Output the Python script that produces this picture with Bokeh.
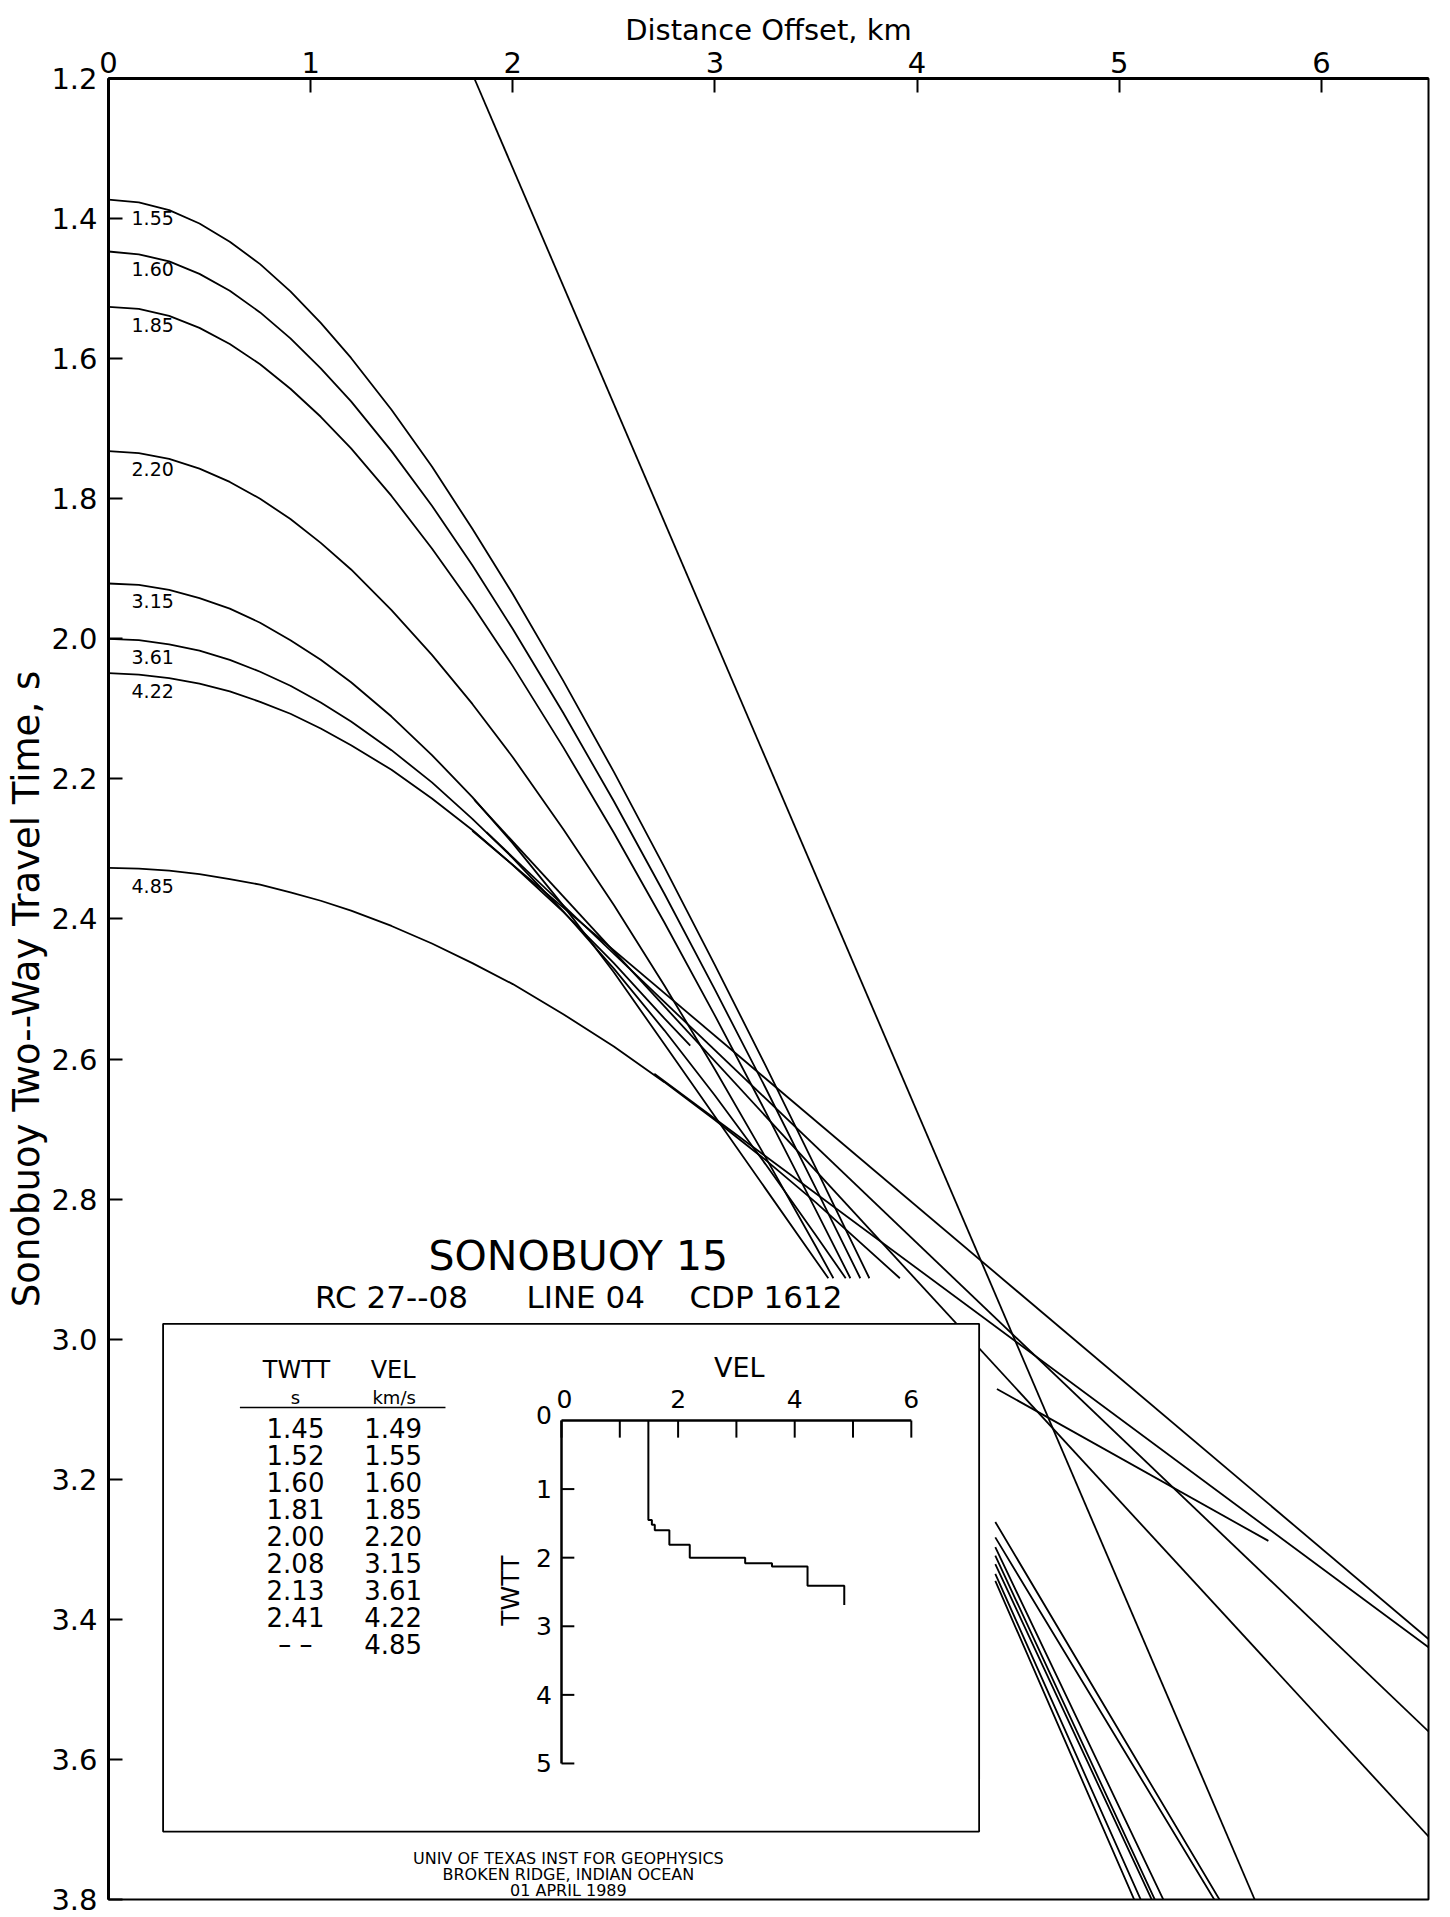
import math
from bokeh.plotting import figure
from bokeh.models import Range1d, FixedTicker, NumeralTickFormatter, Title
from bokeh.core.properties import value
from bokeh.embed import file_html
from bokeh.resources import INLINE

FONT = "DejaVu Sans"

# ---------------- data ----------------
offset_ticks = [0, 1, 2, 3, 4, 5, 6]
time_ticks = [1.2, 1.4, 1.6, 1.8, 2.0, 2.2, 2.4, 2.6, 2.8, 3.0, 3.2, 3.4, 3.6, 3.8]

curve_labels = ["1.55", "1.60", "1.85", "2.20", "3.15", "3.61", "4.22", "4.85"]

# sampled offsets (km) at which the curves were read
grid_x = [0, 0.15, 0.3, 0.45, 0.6, 0.75, 0.9, 1.05, 1.2, 1.4, 1.6, 1.8, 2.0, 2.25, 2.5, 2.75, 3.0, 3.25, 3.5]

# two-way times (s) at grid_x, plus the curve's end point
c155_t = [1.373, 1.377, 1.388, 1.407, 1.433, 1.465, 1.504, 1.549, 1.599, 1.673, 1.754, 1.843, 1.936, 2.060, 2.190, 2.326, 2.466, 2.609, 2.756]
c155_end = (3.764, 2.913)
c160_t = [1.447, 1.451, 1.461, 1.479, 1.503, 1.534, 1.571, 1.614, 1.661, 1.732, 1.810, 1.895, 1.986, 2.106, 2.232, 2.364, 2.501, 2.641, 2.785]
c160_end = (3.719, 2.913)
c185_t = [1.526, 1.529, 1.539, 1.556, 1.579, 1.608, 1.643, 1.683, 1.728, 1.796, 1.871, 1.952, 2.039, 2.155, 2.277, 2.405, 2.538, 2.675, 2.816]
c185_end = (3.670, 2.913)
c220_t = [1.732, 1.735, 1.743, 1.757, 1.776, 1.800, 1.829, 1.863, 1.901, 1.959, 2.023, 2.093, 2.169, 2.272, 2.380, 2.495, 2.615, 2.740, 2.868]
c220_end = (3.586, 2.913)
c315_t = [1.921, 1.923, 1.930, 1.942, 1.957, 1.977, 2.002, 2.030, 2.062, 2.111, 2.166, 2.226, 2.292, 2.381, 2.476, 2.579, 2.682, 2.785, 2.888]
c315_end = (3.561, 2.913)
c361_t = [2.000, 2.002, 2.008, 2.017, 2.030, 2.047, 2.067, 2.091, 2.118, 2.159, 2.205, 2.257, 2.313, 2.389, 2.471, 2.559, 2.652, 2.750, 2.852]
c361_end = (3.647, 2.913)
c422_t = [2.049, 2.051, 2.056, 2.064, 2.075, 2.090, 2.107, 2.128, 2.152, 2.187, 2.228, 2.273, 2.323, 2.390, 2.463, 2.542, 2.625, 2.712, 2.804]
c422_end = (2.878, 2.581)
c485_t = [2.327, 2.328, 2.331, 2.336, 2.343, 2.351, 2.362, 2.374, 2.388, 2.410, 2.435, 2.463, 2.493, 2.536, 2.582, 2.633, 2.687, 2.744, 2.805]
c485_end = (3.915, 2.913)

# far-offset branches (lower right, below the title block)
far_x = [[4.387, 5.087, 5.537], [4.387, 5.054, 5.512], [4.387, 4.890, 5.251],
         [4.387, 4.857, 5.208], [4.387, 4.840, 5.193], [4.387, 4.799, 5.137],
         [4.387, 4.774, 5.104]]
far_t = [[3.261, 3.6015, 3.82], [3.283, 3.6015, 3.82], [3.297, 3.6015, 3.82],
         [3.309, 3.6015, 3.82], [3.321, 3.6015, 3.82], [3.335, 3.6015, 3.82],
         [3.345, 3.6015, 3.82]]

# straight branches: start and end points
refr_x0 = [1.81, 1.87, 1.80, 2.70, 4.395]
refr_t0 = [2.230, 2.276, 2.274, 2.621, 3.071]
refr_x1 = [6.53, 6.53, 6.53, 6.53, 5.738]
refr_t1 = [3.71, 3.56, 3.428, 3.44, 3.288]

# direct water wave
direct_x = [1.81, 5.67]
direct_t = [1.20, 3.80]

# velocity model (inset table and step plot)
table_twtt = [1.45, 1.52, 1.60, 1.81, 2.00, 2.08, 2.13, 2.41]
table_vel = [1.49, 1.55, 1.60, 1.85, 2.20, 3.15, 3.61, 4.22, 4.85]
last_layer_base = 2.69
vel_ticks = [0, 1, 2, 3, 4, 5, 6]
vel_label_ticks = [0, 2, 4, 6]
twtt_ticks = [1, 2, 3, 4, 5]

# ---------------- figure ----------------
p = figure(width=1450, height=1917,
           x_range=Range1d(0, 6.53), y_range=Range1d(3.8, 1.2),
           x_axis_location="above",
           output_backend="svg", toolbar_location=None,
           min_border_left=108, min_border_right=22,
           min_border_top=78, min_border_bottom=18)
p.extra_x_ranges = {"vel": Range1d(-7.770, 14.871)}
p.extra_y_ranges = {"twtt": Range1d(6.983, -19.563)}

p.grid.visible = False
p.outline_line_color = "black"
p.outline_line_width = 2
p.background_fill_color = "white"
p.border_fill_color = "white"

xa = p.xaxis[0]
xa.ticker = FixedTicker(ticks=offset_ticks)
xa.axis_label = "Distance Offset, km"
ya = p.yaxis[0]
ya.ticker = FixedTicker(ticks=time_ticks)
ya.formatter = NumeralTickFormatter(format="0.0")
for ax in (xa, ya):
    ax.major_label_text_font = FONT
    ax.major_label_text_font_size = "29px"
    ax.major_label_text_color = "black"
    ax.axis_label_text_font = FONT
    ax.axis_label_text_font_size = "29px"
    ax.axis_label_text_font_style = "normal"
    ax.axis_label_text_color = "black"
    ax.axis_line_width = 3
    ax.axis_line_color = "black"
    ax.major_tick_in = 14
    ax.major_tick_out = 0
    ax.major_tick_line_width = 2
    ax.major_tick_line_color = "black"
    ax.minor_tick_in = 0
    ax.minor_tick_out = 0
xa.major_label_standoff = 6
xa.axis_label_standoff = 2
ya.major_label_standoff = 11

ytitle = Title(text="Sonobuoy Two--Way Travel Time, s", align="center", offset=67,
               text_font=FONT, text_font_size="37px", text_font_style="normal",
               text_color="black", standoff=2)
p.add_layout(ytitle, "left")

# travel-time curves
near_t = [c155_t, c160_t, c185_t, c220_t, c315_t, c361_t, c422_t, c485_t]
near_end = [c155_end, c160_end, c185_end, c220_end, c315_end, c361_end, c422_end, c485_end]
near_xs, near_ys = [], []
for ts, (xe, te) in zip(near_t, near_end):
    xs = [x for x in grid_x if x < xe] + [xe]
    near_xs.append(xs)
    near_ys.append(ts[:len(xs) - 1] + [te])
p.multi_line(xs=near_xs + far_x, ys=near_ys + far_t, line_color="black", line_width=1.8)
p.segment(x0=refr_x0, y0=refr_t0, x1=refr_x1, y1=refr_t1, line_color="black", line_width=1.8)
p.line(direct_x, direct_t, line_color="black", line_width=1.8)

p.text(x=[grid_x[0]] * len(near_t), y=[c[0] for c in near_t], text=curve_labels,
       x_offset=23, y_offset=18, text_align="left", text_baseline="middle",
       text_font=value(FONT), text_font_size="19px", text_color="black")

# title block
p.text(x=[2.324], y=[2.881], text=["SONOBUOY 15"], text_align="center", text_baseline="middle",
       text_font=value(FONT), text_font_size="41px", text_color="black")
p.text(x=[1.400, 2.361, 3.252], y=[2.940] * 3, text=["RC 27--08", "LINE 04", "CDP 1612"],
       text_align="center", text_baseline="middle",
       text_font=value(FONT), text_font_size="31px", text_color="black")

# inset panel
p.quad(left=[0.270], right=[4.307], top=[2.978], bottom=[3.703],
       fill_color="white", line_color="black", line_width=1.8)

# velocity table
hdr_t = 3.044
p.text(x=[0.930, 1.408], y=[hdr_t, hdr_t], text=["TWTT", "VEL"], text_align="center",
       text_baseline="middle", text_font=value(FONT), text_font_size="24px", text_color="black")
p.text(x=[0.925, 1.413], y=[3.083, 3.083], text=["s", "km/s"], text_align="center",
       text_baseline="middle", text_font=value(FONT), text_font_size="18px", text_color="black")
p.segment(x0=[0.650], y0=[3.0975], x1=[1.667], y1=[3.0975], line_color="black", line_width=1.5)
row_t = [3.127 + 0.0386 * i for i in range(len(table_vel))]
twtt_txt = ["%.2f" % v for v in table_twtt] + ["– –"]
vel_txt = ["%.2f" % v for v in table_vel]
p.text(x=[0.925] * len(twtt_txt), y=row_t, text=twtt_txt, text_align="center",
       text_baseline="middle", text_font=value(FONT), text_font_size="26px", text_color="black")
p.text(x=[1.408] * len(vel_txt), y=row_t, text=vel_txt, text_align="center",
       text_baseline="middle", text_font=value(FONT), text_font_size="26px", text_color="black")

# step plot of interval velocity vs TWTT
step_v = [table_vel[0]]
step_t = [0.0]
for i, tb in enumerate(table_twtt):
    step_v += [table_vel[i], table_vel[i + 1]]
    step_t += [tb, tb]
step_v.append(table_vel[-1])
step_t.append(last_layer_base)

R = dict(x_range_name="vel", y_range_name="twtt")
p.line([0, 6], [0, 0], line_color="black", line_width=2.5, **R)
p.line([0, 0], [0, 5], line_color="black", line_width=2.5, **R)
p.segment(x0=vel_ticks, y0=[0] * len(vel_ticks), x1=vel_ticks, y1=[0.25] * len(vel_ticks),
          line_color="black", line_width=2, **R)
p.segment(x0=[0] * len(twtt_ticks), y0=twtt_ticks, x1=[0.22] * len(twtt_ticks), y1=twtt_ticks,
          line_color="black", line_width=2, **R)
p.line(step_v, step_t, line_color="black", line_width=2, **R)
p.text(x=[v + (0.05 if v == 0 else 0) for v in vel_label_ticks], y=[-0.31] * len(vel_label_ticks),
       text=[str(v) for v in vel_label_ticks], text_align="center", text_baseline="middle",
       text_font=value(FONT), text_font_size="25px", text_color="black", **R)
p.text(x=[-0.30] * (len(twtt_ticks) + 1), y=[-0.08] + twtt_ticks,
       text=["0"] + [str(t) for t in twtt_ticks], text_align="center", text_baseline="middle",
       text_font=value(FONT), text_font_size="25px", text_color="black", **R)
p.text(x=[3.05], y=[-0.77], text=["VEL"], text_align="center", text_baseline="middle",
       text_font=value(FONT), text_font_size="27px", text_color="black", **R)
p.text(x=[-0.875], y=[2.48], text=["TWTT"], angle=math.pi / 2, text_align="center",
       text_baseline="middle", text_font=value(FONT), text_font_size="25px",
       text_color="black", **R)

# footer
p.text(x=[2.275] * 3, y=[3.741, 3.764, 3.787],
       text=["UNIV OF TEXAS INST FOR GEOPHYSICS", "BROKEN RIDGE, INDIAN OCEAN", "01 APRIL 1989"],
       text_align="center", text_baseline="middle", text_font=value(FONT),
       text_font_size="16px", text_color="black")

open("out.html", "w").write(file_html(p, INLINE))
